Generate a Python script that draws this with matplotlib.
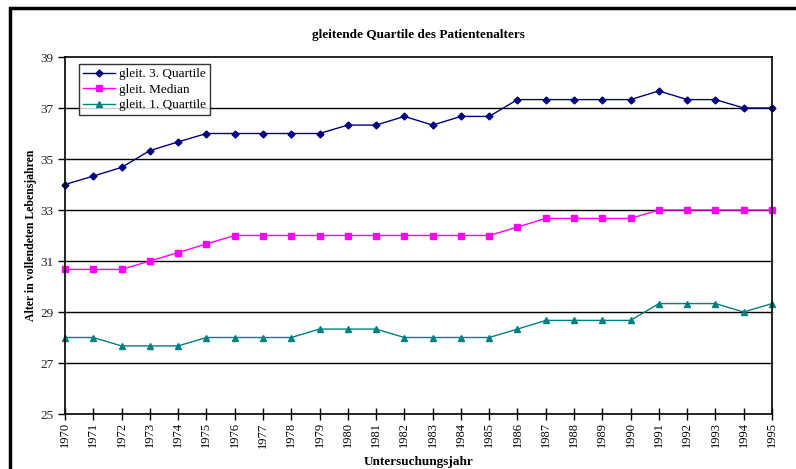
import numpy as np
import matplotlib.pyplot as plt
from matplotlib.patches import Rectangle

plt.rcParams['font.family'] = ['Liberation Serif', 'DejaVu Serif']

# Jahre und gleitende Quartile
jahre = list(range(1970, 1996))
q3 = [34, 34.33, 34.67, 35.33, 35.67, 36, 36, 36, 36, 36, 36.33, 36.33, 36.67,
      36.33, 36.67, 36.67, 37.33, 37.33, 37.33, 37.33, 37.33, 37.67, 37.33, 37.33, 37, 37]
median = [30.67, 30.67, 30.67, 31, 31.33, 31.67, 32, 32, 32, 32, 32, 32, 32,
          32, 32, 32, 32.33, 32.67, 32.67, 32.67, 32.67, 33, 33, 33, 33, 33]
q1 = [28, 28, 27.67, 27.67, 27.67, 28, 28, 28, 28, 28.33, 28.33, 28.33, 28,
      28, 28, 28, 28.33, 28.67, 28.67, 28.67, 28.67, 29.33, 29.33, 29.33, 29, 29.33]

fig = plt.figure(figsize=(7.96, 4.69), dpi=100)
W, H = 796, 469
ax = fig.add_axes([65 / W, 1 - 414 / H, (772 - 65) / W, (414 - 57) / H])

# dicker Rahmen um das Diagramm
fig.patches.append(Rectangle((10 / W, -0.1), 1.2, 1 - 8 / H + 0.1, transform=fig.transFigure,
                             fill=False, edgecolor='black', linewidth=2.5))

ax.plot(jahre, q3, color='#000080', marker='D', markersize=3.5, linewidth=1, label='gleit. 3. Quartile')
ax.plot(jahre, median, color='#FF00FF', marker='s', markersize=5, linewidth=1, label='gleit. Median')
ax.plot(jahre, q1, color='#008080', marker='^', markersize=5, linewidth=1, label='gleit. 1. Quartile')

ax.set_xlim(1970, 1995)
ax.set_ylim(25, 39)
ax.set_yticks(np.arange(25, 40, 2))
ax.set_xticks(jahre)
ax.set_xticklabels([str(j) for j in jahre], rotation=90, fontsize=9)
ax.tick_params(axis='y', labelsize=9.5, direction='out', length=5, width=1)
ax.tick_params(axis='x', direction='inout', length=8, width=1, pad=2)
for lab in ax.get_yticklabels():
    lab.set_color('#222222')

for y in range(27, 39, 2):
    ax.axhline(y, color='black', linewidth=1, zorder=0)
for s in ax.spines.values():
    s.set_linewidth(1.2)
    s.set_clip_on(False)

for line in ax.lines:
    line.set_clip_on(False)

ax.set_title('gleitende Quartile des Patientenalters', fontsize=9.5, fontweight='bold', pad=14)
ax.set_xlabel('Untersuchungsjahr', fontsize=9.5, fontweight='bold', labelpad=6)
ax.set_ylabel('Alter in vollendeten Lebensjahren', fontsize=8.5, fontweight='bold', labelpad=2)

leg = ax.legend(loc='upper left', bbox_to_anchor=(14 / 707, 1 - 7 / 357), fontsize=9.5,
                frameon=True, fancybox=False, shadow=False, borderpad=0.3, labelspacing=0.25,
                handlelength=2.4, handletextpad=0.3, borderaxespad=0)
leg.get_frame().set_edgecolor('black')
leg.get_frame().set_linewidth(1)

fig.savefig('out.png', dpi=100)
